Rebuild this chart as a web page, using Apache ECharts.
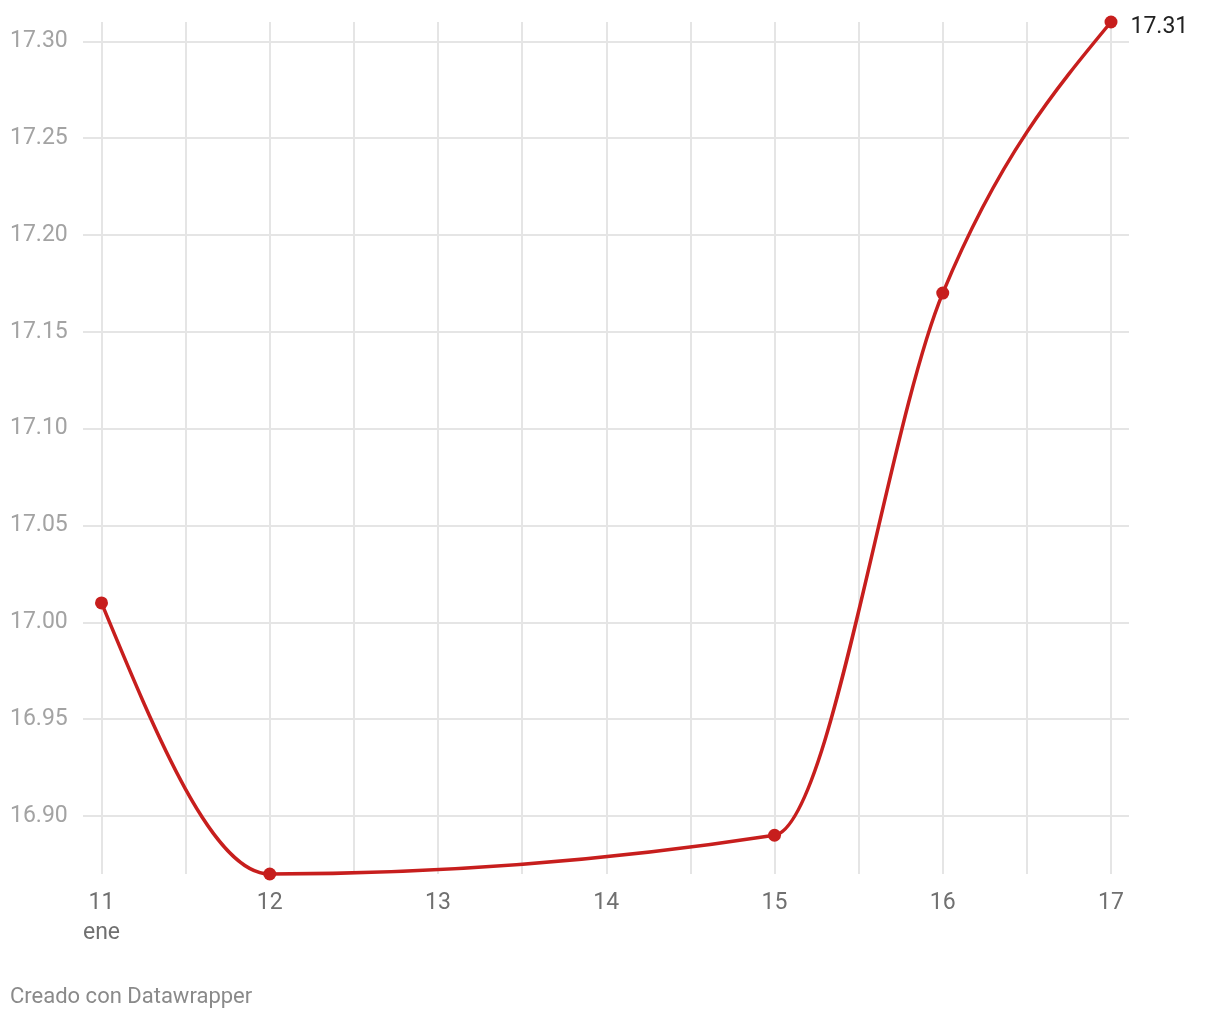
<!DOCTYPE html>
<html><head><meta charset="utf-8">
<script src="https://cdn.jsdelivr.net/npm/echarts@6/dist/echarts.min.js"></script>
<style>html,body{margin:0;padding:0;background:#fff}#c{width:1220px;height:1020px}</style>
</head><body><div id="c"></div>
<script>
// ---- data ----
const dates = ['2024-01-11', '2024-01-12', '2024-01-15', '2024-01-16', '2024-01-17'];
const values = [17.01, 16.87, 16.89, 17.17, 17.31];
const yTicks = [16.90, 16.95, 17.00, 17.05, 17.10, 17.15, 17.20, 17.25, 17.30];
const xLabelDays = ['2024-01-11', '2024-01-12', '2024-01-13', '2024-01-14', '2024-01-15', '2024-01-16', '2024-01-17'];
const monthLabel = 'ene';
const footerText = 'Creado con Datawrapper';

// ---- build ----
const DAY = 86400000;
const ts = s => { const p = s.split('-').map(Number); return Date.UTC(p[0], p[1] - 1, p[2]); };
const xLabelTs = xLabelDays.map(ts);
const xGridTs = [];
for (let t = xLabelTs[0]; t <= xLabelTs[xLabelTs.length - 1]; t += DAY / 2) xGridTs.push(t);
const xMin = xLabelTs[0] - 0.11 * DAY;
const xMax = xLabelTs[xLabelTs.length - 1] + 0.107 * DAY;

const font = 'Roboto, "Noto Sans", sans-serif';
const RED = '#c71e1d';
const last = values.length - 1;
const points = dates.map((d, i) => [ts(d), values[i]]);

const seriesData = points.map((p, i) => {
  const item = { value: p };
  if (i === last) {
    item.label = {
      show: true, position: 'right', distance: 13, offset: [0, 5],
      formatter: q => q.value[1].toFixed(2),
      color: '#222222', fontSize: 23, fontFamily: font
    };
  }
  return item;
});

// monotone-x cubic (same rule as d3.curveMonotoneX), computed in pixel space
const sgn = x => (x < 0 ? -1 : 1);
function monoTangents(px) {
  const n = px.length, t = new Array(n).fill(0);
  for (let i = 1; i < n - 1; i++) {
    const h0 = px[i][0] - px[i - 1][0], h1 = px[i + 1][0] - px[i][0];
    const s0 = (px[i][1] - px[i - 1][1]) / h0, s1 = (px[i + 1][1] - px[i][1]) / h1;
    const p = (s0 * h1 + s1 * h0) / (h0 + h1);
    t[i] = (sgn(s0) + sgn(s1)) * Math.min(Math.abs(s0), Math.abs(s1), 0.5 * Math.abs(p)) || 0;
  }
  const hA = px[1][0] - px[0][0];
  t[0] = (3 * (px[1][1] - px[0][1]) / hA - t[1]) / 2;
  const hB = px[n - 1][0] - px[n - 2][0];
  t[n - 1] = (3 * (px[n - 1][1] - px[n - 2][1]) / hB - t[n - 2]) / 2;
  return t;
}

function renderSegment(params, api) {
  const i = params.dataIndex;
  if (i >= points.length - 1) return null;
  const px = points.map(p => api.coord(p));
  const t = monoTangents(px);
  const a = px[i], b = px[i + 1];
  const dx = (b[0] - a[0]) / 3;
  return {
    type: 'bezierCurve',
    shape: {
      x1: a[0], y1: a[1],
      cpx1: a[0] + dx, cpy1: a[1] + dx * t[i],
      cpx2: b[0] - dx, cpy2: b[1] - dx * t[i + 1],
      x2: b[0], y2: b[1]
    },
    style: { stroke: RED, lineWidth: 3.5, fill: null, lineCap: 'round' },
    silent: true
  };
}

const chart = echarts.init(document.getElementById('c'), null, { renderer: 'canvas' });
chart.setOption({
  backgroundColor: '#ffffff',
  animation: false,
  title: {
    text: footerText, left: 10, top: 986, padding: 0,
    textStyle: { color: '#8a8a8a', fontSize: 22, fontWeight: 'normal', fontFamily: font }
  },
  grid: { left: 83, right: 91, top: 22, bottom: 146, containLabel: false },
  xAxis: {
    type: 'value', min: xMin, max: xMax, scale: true,
    axisLine: { show: false },
    axisTick: { show: false, customValues: xGridTs },
    splitLine: { show: true, lineStyle: { color: '#e5e5e5', width: 2 } },
    axisLabel: {
      customValues: xLabelTs,
      margin: 14,
      color: '#707070', fontSize: 23, fontFamily: font, lineHeight: 30,
      formatter: (v) => {
        const d = new Date(v).getUTCDate();
        return Math.abs(v - xLabelTs[0]) < 1000 ? d + '\n' + monthLabel : String(d);
      }
    }
  },
  yAxis: {
    type: 'value', min: 16.87, max: 17.31, scale: true,
    axisLine: { show: false },
    axisTick: { show: false, customValues: yTicks },
    splitLine: { show: true, lineStyle: { color: '#e5e5e5', width: 2 } },
    axisLabel: {
      customValues: yTicks,
      align: 'left', margin: 73,
      color: '#a3a3a3', fontSize: 23, fontFamily: font,
      formatter: v => v.toFixed(2)
    }
  },
  series: [{
    type: 'custom',
    data: points,
    encode: { x: 0, y: 1 },
    renderItem: renderSegment,
    clip: false,
    z: 2
  }, {
    type: 'scatter',
    data: seriesData,
    symbol: 'circle', symbolSize: 13,
    itemStyle: { color: RED, opacity: 1 },
    label: { show: false },
    z: 3
  }]
});
</script>
</body></html>
